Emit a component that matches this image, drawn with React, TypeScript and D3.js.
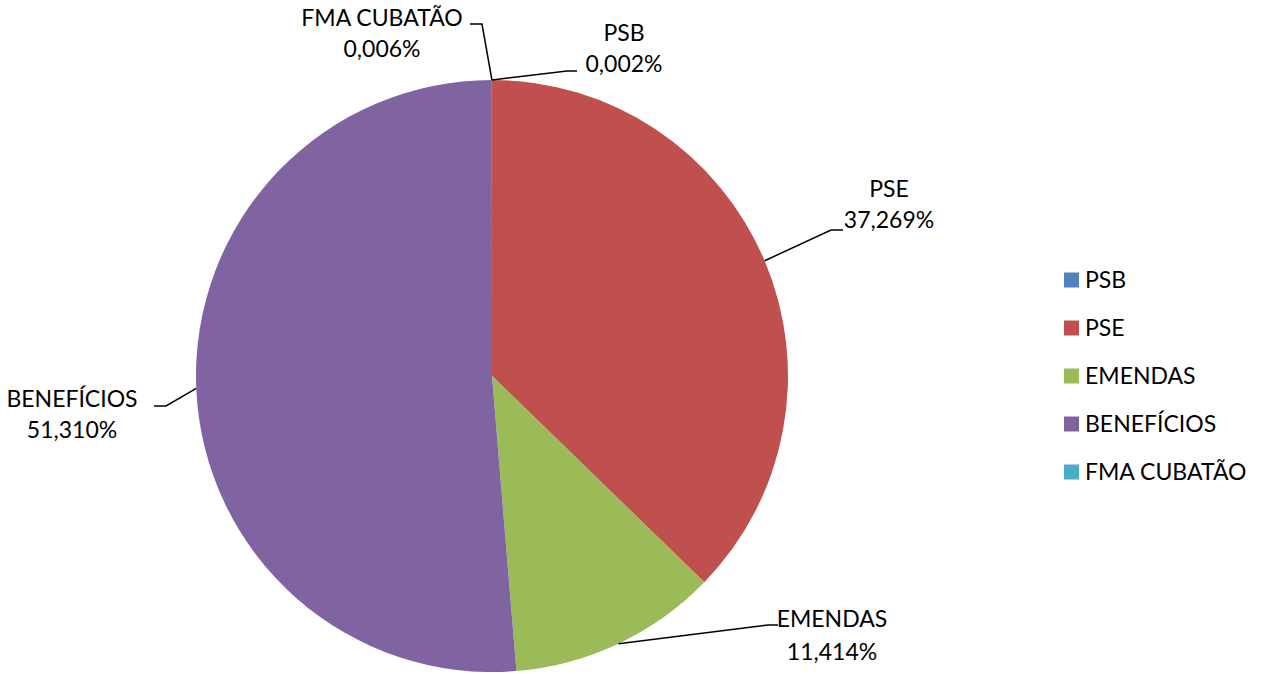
import React from "react";
import * as d3 from "d3";

// slice values in %, clockwise from 12 o'clock
const categories = ["PSB", "PSE", "EMENDAS", "BENEFÍCIOS", "FMA CUBATÃO"];
const values = [0.002, 37.269, 11.414, 51.31, 0.006];
const valueLabels = ["0,002%", "37,269%", "11,414%", "51,310%", "0,006%"];
const colors = ["#4F81BD", "#C0504D", "#9BBB59", "#8064A2", "#4BACC6"];

// label layout: elbow of the leader, end of the leader, text centre + first baseline
const labelLayout = [
  { elbow: [567, 71], end: [577, 71], tx: 624, ty: 41, gap: 31 },
  { elbow: [831, 230], end: [843, 230], tx: 889, ty: 197, gap: 31 },
  { elbow: [768, 625], end: [778, 625], tx: 832, ty: 627, gap: 33 },
  { elbow: [166, 406], end: [154, 406], tx: 72, ty: 407, gap: 31 },
  { elbow: [482, 24], end: [470, 24], tx: 382, ty: 26, gap: 31 },
];

const W = 1265;
const H = 674;
const cx = 492;
const cy = 376;
const R = 296;
const fs = 23;
const font = "Lato, 'Open Sans', sans-serif";

export default function App() {
  const pie = d3.pie<number>().sort(null).value((d) => d);
  const arcs = pie(values);
  const arc = d3.arc<d3.PieArcDatum<number>>().innerRadius(0).outerRadius(R);
  const edge = d3.arc<d3.PieArcDatum<number>>().innerRadius(R).outerRadius(R);

  const legendY = d3.scalePoint<string>().domain(categories).range([280, 472]);

  return (
    <svg
      width={W}
      height={H}
      style={{ position: "absolute", left: 0, top: 0, background: "#fff" }}
      fontFamily={font}
    >
      <g transform={`translate(${cx},${cy})`}>
        {arcs.map((a, i) => (
          <path key={i} d={arc(a) || ""} fill={colors[i]} />
        ))}
      </g>
      {arcs.map((a, i) => {
        const [ax, ay] = edge.centroid(a);
        const L = labelLayout[i];
        const pts = [[cx + ax, cy + ay], L.elbow, L.end];
        return (
          <g key={i}>
            <polyline
              points={pts.map((p) => p.join(",")).join(" ")}
              fill="none"
              stroke="#000"
              strokeWidth={1.5}
            />
            <text x={L.tx} y={L.ty} textAnchor="middle" fontSize={fs} fill="#000">
              {categories[i]}
            </text>
            <text x={L.tx} y={L.ty + L.gap} textAnchor="middle" fontSize={fs} fill="#000">
              {valueLabels[i]}
            </text>
          </g>
        );
      })}
      <g>
        {categories.map((c, i) => {
          const y = legendY(c) as number;
          return (
            <g key={c}>
              <rect x={1064} y={y - 7.5} width={15} height={15} fill={colors[i]} />
              <text x={1085} y={y + 8} fontSize={fs} fill="#000">
                {c}
              </text>
            </g>
          );
        })}
      </g>
    </svg>
  );
}
